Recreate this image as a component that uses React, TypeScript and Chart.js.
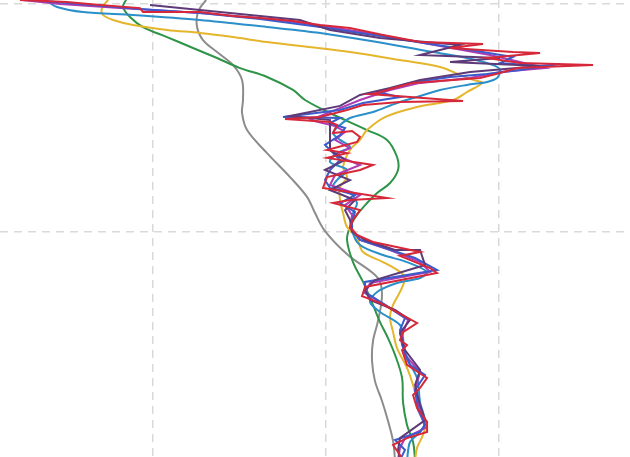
import React, { useEffect, useRef } from "react";
import { Chart, registerables } from "chart.js";

Chart.register(...registerables);

// Axis ranges (x: value, y: height) and grid tick values
const X_RANGE = [2.31, 75.14];
const Y_RANGE = [13.2, 2017.5];
const X_TICKS = [20, 40, 60];
const Y_TICKS = [1000, 2000];

const RED_X = [4.62, 10.06, 13.87, 18.5, 18.84, 25.43, 29.25, 32.37, 36.18, 39.31, 42.77, 46.59, 50.87, 58.15, 54.34, 61.62, 64.74, 58.61, 62.43, 70.87, 62.08, 60.12, 57.8, 54.68, 50.06, 48.21, 45.9, 45.09, 49.71, 55.84, 48.55, 44.28, 42.43, 39.31, 35.26, 40.46, 41.27, 40.81, 43.01, 43.93, 43.58, 40.12, 42.43, 40.12, 45.43, 43.93, 40.12, 39.65, 47.05, 42.77, 40.81, 43.93, 43.12, 42.77, 43.58, 45.43, 50.87, 48.55, 52.02, 52.83, 44.51, 44.16, 46.24, 48.21, 50.52, 48.9, 48.55, 49.36, 48.79, 49.36, 51.68, 50.87, 50.06, 50.52, 51.68, 51.68, 49.36, 47.75, 48.55, 48.79];
const RED_Y = [2018, 2009, 1996, 1982, 1965, 1965, 1947, 1939, 1925, 1908, 1895, 1864, 1833, 1825, 1807, 1789, 1785, 1763, 1741, 1732, 1719, 1697, 1675, 1667, 1654, 1636, 1610, 1605, 1592, 1575, 1570, 1557, 1535, 1504, 1496, 1482, 1469, 1434, 1443, 1417, 1395, 1360, 1346, 1325, 1294, 1272, 1241, 1193, 1149, 1140, 1127, 1096, 1053, 1022, 987, 956, 912, 895, 842, 820, 759, 719, 689, 649, 601, 561, 526, 504, 482, 417, 360, 316, 285, 228, 167, 123, 96, 66, 22, 0];

const BLUE_X = [5.78, 11.56, 18.5, 25.43, 32.37, 39.31, 46.24, 52.02, 56.65, 61.62, 60.12, 64.74, 67.05, 62.43, 58.61, 54.34, 49.71, 47.75, 45.9, 48.55, 44.28, 41.62, 36.99, 35.03, 41.62, 40.46, 42.2, 41.62, 39.88, 40.46, 41.62, 40.46, 39.88, 40.46, 43.35, 41.62, 43.35, 43.01, 43.01, 43.93, 46.82, 50.29, 52.83, 44.51, 44.51, 46.82, 49.13, 48.55, 48.79, 49.71, 51.45, 50.29, 50.64, 51.45, 50.87, 47.98, 49.13, 48.55];
const BLUE_Y = [2018, 2000, 1978, 1961, 1934, 1899, 1860, 1825, 1798, 1768, 1741, 1728, 1737, 1711, 1693, 1680, 1654, 1632, 1614, 1592, 1566, 1535, 1513, 1504, 1500, 1478, 1456, 1425, 1382, 1360, 1316, 1272, 1228, 1193, 1162, 1127, 1088, 1044, 1009, 965, 930, 886, 833, 781, 737, 680, 623, 570, 504, 417, 373, 307, 219, 154, 123, 88, 44, 0];

const PURPLE_X = [4.86, 9.25, 16.18, 25.43, 34.68, 40.46, 46.24, 53.18, 58.96, 62.43, 65.32, 60.12, 56.65, 50.87, 47.4, 43.93, 40.46, 38.15, 41.04, 42.2, 41.04, 42.77, 41.04, 43.93, 41.04, 40.46, 43.93, 42.2, 43.01, 42.77, 43.93, 47.4, 50.87, 52.02, 45.09, 44.51, 46.82, 49.48, 48.79, 49.13, 50.87, 50.29, 50.87, 51.45, 49.13, 48.55, 48.32];
const PURPLE_Y = [2018, 2000, 1982, 1961, 1930, 1899, 1864, 1816, 1776, 1746, 1719, 1702, 1675, 1654, 1623, 1579, 1526, 1491, 1465, 1439, 1404, 1368, 1338, 1294, 1250, 1206, 1162, 1118, 1075, 1018, 965, 921, 868, 825, 776, 732, 680, 614, 548, 461, 386, 307, 219, 140, 96, 53, 0];

const PLUM_X = [19.65, 31.21, 36.99, 40.46, 46.24, 55.49, 50.87, 60.12, 54.34, 64.74, 56.65, 50.87, 47.4, 43.93, 41.62, 35.84, 40.46, 40.46, 40.46, 42.2, 39.88, 42.77, 40.46, 43.35, 42.2, 42.77, 43.01, 44.51, 47.98, 50.87, 51.45, 45.66, 44.51, 45.09, 47.98, 49.71, 48.55, 49.13, 50.87, 50.29, 50.87, 51.45, 48.55, 48.32, 48.55];
const PLUM_Y = [1996, 1952, 1930, 1886, 1851, 1820, 1776, 1763, 1746, 1728, 1702, 1667, 1632, 1601, 1553, 1509, 1491, 1447, 1360, 1316, 1272, 1228, 1184, 1140, 1096, 1053, 1000, 965, 921, 921, 855, 789, 746, 702, 658, 614, 557, 482, 395, 329, 241, 175, 96, 44, 0];

const CYAN_X = [7.51, 8.9, 11.91, 17.69, 25.43, 33.18, 39.31, 46.59, 52.37, 56.3, 59.31, 60.12, 59.77, 58.61, 56.3, 53.18, 50.52, 48.21, 45.43, 42.77, 41.62, 40.81, 41.62, 42.77, 41.27, 40.46, 42.43, 41.27, 40.81, 42.77, 43.58, 43.12, 43.01, 43.93, 46.59, 49.36, 51.68, 50.87, 48.21, 45.9, 45.09, 46.24, 48.55, 48.9, 49.13, 50.52, 50.87, 51.45, 50.87, 49.71, 49.36];
const CYAN_Y = [2018, 1987, 1965, 1952, 1930, 1899, 1873, 1829, 1789, 1763, 1732, 1711, 1675, 1658, 1645, 1623, 1592, 1566, 1526, 1500, 1469, 1434, 1404, 1373, 1346, 1307, 1272, 1228, 1197, 1171, 1127, 1083, 1009, 943, 899, 868, 825, 798, 776, 737, 693, 649, 592, 535, 461, 360, 254, 167, 123, 79, 0];

const YELLOW_X = [14.8, 14.1, 14.22, 15.38, 17.69, 21.62, 25.43, 29.25, 33.18, 39.08, 42.77, 48.55, 53.18, 55.49, 56.99, 58.03, 56.3, 54.68, 50.52, 46.82, 44.74, 43.93, 42.77, 41.97, 42.43, 41.62, 41.62, 41.97, 42.43, 43.58, 44.28, 46.59, 48.55, 49.13, 48.55, 47.75, 47.4, 47.75, 48.21, 49.36, 50.06, 50.87, 51.45, 51.21, 50.52, 50.29];
const YELLOW_Y = [2018, 1982, 1952, 1930, 1908, 1886, 1873, 1855, 1833, 1807, 1789, 1754, 1724, 1689, 1667, 1654, 1614, 1579, 1548, 1504, 1447, 1404, 1360, 1285, 1241, 1197, 1140, 1083, 1022, 974, 912, 868, 825, 798, 737, 680, 627, 561, 491, 404, 329, 211, 154, 110, 53, 0];

const GREEN_X = [16.88, 16.53, 17.34, 18.84, 21.62, 24.62, 27.4, 30.06, 33.18, 36.18, 37.57, 40.46, 44.74, 47.05, 48.21, 48.32, 47.4, 45.9, 44.74, 43.58, 42.77, 42.43, 43.12, 44.28, 45.43, 46.24, 47.05, 47.98, 48.79, 48.9, 49.36, 50.06, 50.29];
const GREEN_Y = [2018, 1987, 1943, 1899, 1855, 1807, 1763, 1719, 1680, 1623, 1579, 1522, 1447, 1404, 1329, 1272, 1215, 1171, 1127, 1075, 1022, 965, 868, 781, 680, 605, 544, 461, 360, 254, 154, 79, 0];

const GRAY_X = [26.13, 25.2, 25.09, 25.78, 27.4, 29.25, 30.29, 30.4, 30.29, 30.87, 33.18, 35.84, 37.8, 38.73, 39.88, 42.54, 46.01, 46.47, 46.01, 45.43, 45.32, 45.66, 46.47, 47.17, 47.75, 47.98];
const GRAY_Y = [2018, 1965, 1899, 1842, 1789, 1732, 1667, 1579, 1522, 1447, 1346, 1241, 1154, 1083, 1004, 899, 798, 724, 610, 522, 434, 346, 259, 171, 83, 0];

const zip = (xs: number[], ys: number[]) => xs.map((x, i) => ({ x, y: ys[i] }));

export default function App() {
  const ref = useRef<HTMLCanvasElement | null>(null);

  useEffect(() => {
    if (!ref.current) return;
    const mk = (label: string, xs: number[], ys: number[], color: string, tension: number) => ({
      label,
      data: zip(xs, ys),
      borderColor: color,
      backgroundColor: color,
      borderWidth: 2,
      pointRadius: 0,
      tension,
      fill: false,
    });
    const chart = new Chart(ref.current, {
      type: "line",
      data: {
        datasets: [
          mk("Red", RED_X, RED_Y, "#d62839", 0),
          mk("Plum", PLUM_X, PLUM_Y, "#5e3a78", 0),
          mk("Blue", BLUE_X, BLUE_Y, "#3b5bcc", 0),
          mk("Purple", PURPLE_X, PURPLE_Y, "#b03bb5", 0),
          mk("Cyan", CYAN_X, CYAN_Y, "#2b8fc9", 0.3),
          mk("Yellow", YELLOW_X, YELLOW_Y, "#e5b52c", 0.35),
          mk("Green", GREEN_X, GREEN_Y, "#2e9447", 0.35),
          mk("Gray", GRAY_X, GRAY_Y, "#8c8c8c", 0.35),
        ] as any,
      },
      options: {
        animation: false,
        responsive: false,
        layout: { padding: 0, autoPadding: false },
        plugins: { legend: { display: false }, tooltip: { enabled: false } },
        scales: {
          x: {
            type: "linear",
            min: X_RANGE[0],
            max: X_RANGE[1],
            afterBuildTicks: (s: any) => {
              s.ticks = X_TICKS.map((v) => ({ value: v }));
            },
            afterFit: (s: any) => {
              s.height = 0;
            },
            ticks: { display: false },
            grid: { color: "#d9d9d9", lineWidth: 1.5, drawTicks: false },
            border: { display: false, dash: [8, 6] },
          },
          y: {
            type: "linear",
            min: Y_RANGE[0],
            max: Y_RANGE[1],
            afterBuildTicks: (s: any) => {
              s.ticks = Y_TICKS.map((v) => ({ value: v }));
            },
            afterFit: (s: any) => {
              s.width = 0;
            },
            ticks: { display: false },
            grid: { color: "#d9d9d9", lineWidth: 1.5, drawTicks: false },
            border: { display: false, dash: [8, 6] },
          },
        },
      } as any,
    });
    return () => chart.destroy();
  }, []);

  return (
    <div style={{ position: "fixed", left: 0, top: 0, width: 630, height: 457, background: "#fff" }}>
      <canvas ref={ref} width={630} height={457} style={{ display: "block" }} />
    </div>
  );
}
